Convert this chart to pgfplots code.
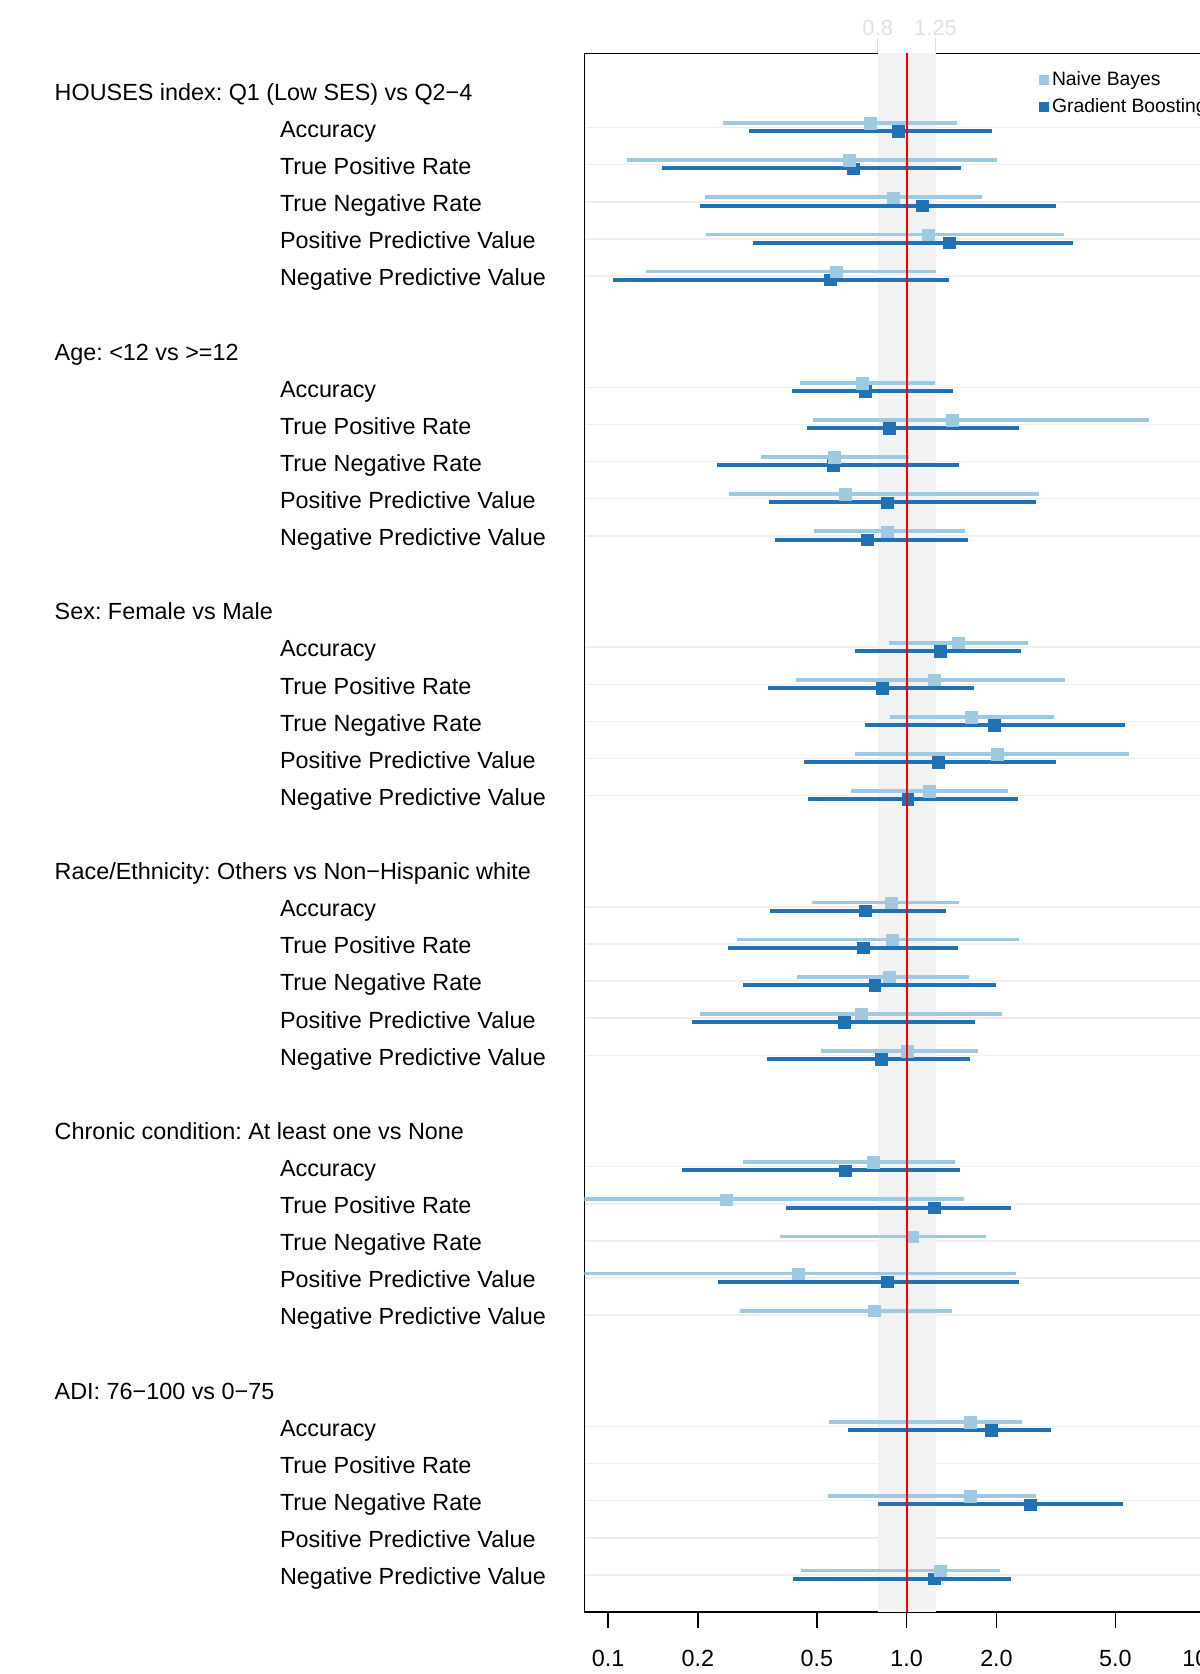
\documentclass[border=0pt]{standalone}
\usepackage{fontspec}
\setmainfont{Liberation Sans}
\usepackage{pgfplots}
\pgfplotsset{compat=1.18}
\usepackage{pgfplotstable}
\definecolor{nb}{HTML}{9ECAE1}
\definecolor{gb}{HTML}{2171B5}
\definecolor{band}{HTML}{F2F2F2}
\definecolor{gridc}{HTML}{EEEEEE}
\definecolor{toplab}{HTML}{E0E0E0}
\frenchspacing

% Naive Bayes: row slot, estimate, lower CI, upper CI
\pgfplotstableread{
row est lo hi
1 0.753 0.242 1.473
2 0.641 0.116 2.006
3 0.901 0.211 1.785
4 1.178 0.213 3.363
5 0.580 0.134 1.251
8 0.709 0.440 1.243
9 1.419 0.486 6.495
10 0.571 0.325 1.022
11 0.621 0.254 2.775
12 0.860 0.489 1.564
15 1.487 0.873 2.549
16 1.235 0.426 3.395
17 1.645 0.879 3.118
18 2.006 0.673 5.567
19 1.189 0.652 2.191
22 0.887 0.482 1.501
23 0.893 0.271 2.386
24 0.873 0.430 1.619
25 0.703 0.203 2.090
26 1.003 0.516 1.735
29 0.772 0.283 1.455
30 0.248 0.040 1.559
31 1.042 0.377 1.848
32 0.433 0.040 2.326
33 0.777 0.277 1.419
36 1.630 0.550 2.438
38 1.630 0.546 2.706
40 1.295 0.442 2.057
}\nbdata

% Gradient Boosting
\pgfplotstableread{
row est lo hi
1 0.936 0.297 1.925
2 0.662 0.152 1.516
3 1.127 0.203 3.157
4 1.388 0.306 3.605
5 0.553 0.104 1.383
8 0.725 0.413 1.428
9 0.873 0.464 2.378
10 0.567 0.232 1.497
11 0.860 0.346 2.706
12 0.737 0.363 1.604
15 1.295 0.673 2.408
16 0.828 0.344 1.682
17 1.962 0.725 5.394
18 1.274 0.454 3.168
19 1.009 0.468 2.363
22 0.725 0.348 1.357
23 0.714 0.253 1.487
24 0.782 0.283 1.993
25 0.618 0.191 1.697
26 0.820 0.341 1.630
29 0.621 0.177 1.511
30 1.235 0.395 2.239
32 0.860 0.233 2.386
36 1.920 0.637 3.050
38 2.588 0.802 5.309
40 1.235 0.417 2.239
}\gbdata

\begin{document}
\begin{tikzpicture}
\useasboundingbox (0,0) rectangle (240mm,334.8mm);
\clip (0,0) rectangle (240mm,334.8mm);
\begin{axis}[
  at={(116.9mm,12.4mm)}, anchor=south west,
  scale only axis, width=128.86mm, height=311.72mm,
  xmode=log, xmin=0.083333, xmax=12, ymin=-41, ymax=1,
  clip mode=individual,
  axis line style={line width=0.3mm, black},
  xtick={0.1,0.2,0.5,1,2,5,10},
  xticklabels={0.1,0.2,0.5,1.0,2.0,5.0,10.0},
  xtick pos=left, xtick align=outside, xminorticks=false,
  major tick length=3.2mm,
  xtick style={line width=0.3mm, black},
  xticklabel style={font=\fontsize{13.3}{15}\selectfont, anchor=center, yshift=-6mm},
  /pgf/number format/assume math mode=true,
  ytick={-1,-2,-3,-4,-5,-8,-9,-10,-11,-12,-15,-16,-17,-18,-19,-22,-23,-24,-25,-26,-29,-30,-31,-32,-33,-36,-37,-38,-39,-40},
  yticklabels={Accuracy,True Positive Rate,True Negative Rate,Positive Predictive Value,Negative Predictive Value,
               Accuracy,True Positive Rate,True Negative Rate,Positive Predictive Value,Negative Predictive Value,
               Accuracy,True Positive Rate,True Negative Rate,Positive Predictive Value,Negative Predictive Value,
               Accuracy,True Positive Rate,True Negative Rate,Positive Predictive Value,Negative Predictive Value,
               Accuracy,True Positive Rate,True Negative Rate,Positive Predictive Value,Negative Predictive Value,
               Accuracy,True Positive Rate,True Negative Rate,Positive Predictive Value,Negative Predictive Value},
  ytick style={draw=none},
  ytick align=inside,
  yticklabel style={font=\fontsize{13.3}{15}\selectfont, anchor=base west, inner sep=0pt, xshift=-60.96mm, yshift=-5.6pt},
  extra y ticks={0,-7,-14,-21,-28,-35},
  extra y tick labels={{HOUSES index: Q1 (Low SES) vs Q2−4},{Age: <12 vs >=12},{Sex: Female vs Male},{Race/Ethnicity: Others vs Non−Hispanic white},{Chronic condition: At least one vs None},{ADI: 76−100 vs 0−75}},
  extra y tick style={grid=none, yticklabel style={xshift=-45.06mm}},
  ymajorgrids, major grid style={gridc, line width=0.3mm},
  legend style={at={(rel axis cs:0.7046,0.9906)}, anchor=north west, draw=none, fill=none,
    font=\fontsize{11}{13}\selectfont, inner sep=0pt, row sep=0.6mm, cells={anchor=west}},
]
\fill[band] (axis cs:0.8,-41) rectangle (axis cs:1.25,1);

\addlegendimage{legend image code/.code={\fill[nb] (0mm,-0.9mm) rectangle (1.8mm,0.9mm);}}
\addlegendentry{Naive Bayes}
\addlegendimage{legend image code/.code={\fill[gb] (0mm,-0.9mm) rectangle (1.8mm,0.9mm);}}
\addlegendentry{Gradient Boosting}

\addplot[color=gb, only marks, mark=square*, mark size=1.15mm, mark options={solid, draw=gb, fill=gb, line width=0.1pt}, forget plot,
  error bars/.cd, x dir=both, x explicit, error mark=none, error bar style={line width=0.8mm, gb}]
  table[x=est, y expr=-\thisrow{row}-0.10, x error plus expr=\thisrow{hi}-\thisrow{est}, x error minus expr=\thisrow{est}-\thisrow{lo}] {\gbdata};

\addplot[color=nb, only marks, mark=square*, mark size=1.15mm, mark options={solid, draw=nb, fill=nb, line width=0.1pt}, forget plot,
  error bars/.cd, x dir=both, x explicit, error mark=none, error bar style={line width=0.75mm, nb}]
  table[x=est, y expr=-\thisrow{row}+0.12, x error plus expr=\thisrow{hi}-\thisrow{est}, x error minus expr=\thisrow{est}-\thisrow{lo}] {\nbdata};

\draw[red, line width=0.35mm] (axis cs:1,-41) -- (axis cs:1,1);
\draw[toplab, line width=0.3mm] (axis cs:0.8,1) -- ([yshift=3mm]axis cs:0.8,1);
\draw[toplab, line width=0.3mm] (axis cs:1.25,1) -- ([yshift=3mm]axis cs:1.25,1);
\node[toplab, font=\fontsize{12.5}{14}\selectfont] at ([yshift=5.08mm]axis cs:0.8,1) {0.8};
\node[toplab, font=\fontsize{12.5}{14}\selectfont] at ([yshift=5.08mm]axis cs:1.25,1) {1.25};
\end{axis}
\end{tikzpicture}
\end{document}
